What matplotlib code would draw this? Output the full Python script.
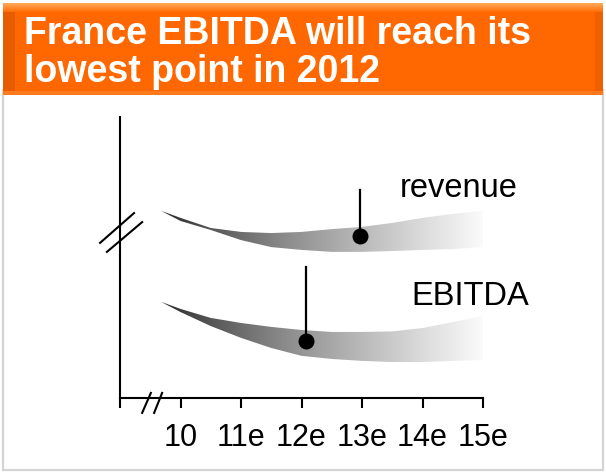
import matplotlib
matplotlib.use("Agg")
import matplotlib.pyplot as plt
import numpy as np
from matplotlib.patches import Rectangle

plt.rcParams['font.family'] = ['Liberation Sans', 'DejaVu Sans']

title_lines = ["France EBITDA will reach its", "lowest point in 2012"]

tick_years = [9, 10, 11, 12, 13, 14, 15]
tick_labels = ["", "10", "11e", "12e", "13e", "14e", "15e"]

# band outlines (index units, 0-100 on the hidden y scale)
years = [9.68, 10, 10.5, 11, 11.5, 12, 12.5, 13, 13.5, 14, 14.5, 15]
revenue_upper = [66.6, 64.1, 60.5, 59.1, 58.7, 59.1, 60.1, 60.9, 62.3, 64.1, 65.5, 66.6]
revenue_lower = [66.6, 63.0, 59.8, 56.2, 53.7, 52.7, 52.0, 52.0, 52.3, 52.7, 53.0, 53.7]
ebitda_upper = [34.2, 31.7, 28.5, 26.7, 25.3, 24.2, 23.5, 23.5, 23.7, 24.9, 27.0, 29.2]
ebitda_lower = [34.2, 30.6, 25.6, 21.4, 17.8, 15.0, 13.9, 13.2, 12.8, 12.8, 13.2, 13.5]

# marker position, stem top
revenue_marker = (12.97, 57.7, 74.0)
ebitda_marker = (12.07, 20.3, 46.6)

series_labels = ["revenue", "EBITDA"]
label_pos = [(13.62, 71.5), (13.82, 33.1)]

W, H = 606, 473
fig = plt.figure(figsize=(W / 100, H / 100), dpi=100)

# background layer in pixel units: frame + orange banner
bg = fig.add_axes([0, 0, 1, 1], zorder=0)
bg.set_xlim(0, W)
bg.set_ylim(H, 0)
bg.axis('off')
bg.add_patch(Rectangle((2.5, 90), 600.5, 380, facecolor='white',
                       edgecolor='#d4d4d4', linewidth=1.6, zorder=0))

bh, bw = 92, 600
banner = np.zeros((bh, bw, 3))
banner[:] = [255, 104, 0]
for r in range(9):
    f = r / 9
    banner[r] = np.array([255, 168, 88]) * (1 - f) + np.array([255, 104, 0]) * f
banner[-4:] = [255, 122, 28]
banner[9:-4, :12] = [232, 92, 0]
banner[9:-4, -8:] = [240, 96, 0]
bg.imshow(banner / 255, extent=(3, 3 + bw, 3 + bh, 3), aspect='auto',
          interpolation='bilinear', zorder=1)

fig.text(24 / W, 1 - 44 / H, title_lines[0], color='white', fontsize=27,
         fontweight='bold', va='baseline', ha='left', zorder=5)
fig.text(24 / W, 1 - 82 / H, title_lines[1], color='white', fontsize=27,
         fontweight='bold', va='baseline', ha='left', zorder=5)

# chart axes
ax = fig.add_axes([120 / W, 1 - 398 / H, 363 / W, 281 / H], zorder=2)
ax.patch.set_alpha(0)
ax.set_xlim(9, 15)
ax.set_ylim(0, 100)

t = np.linspace(0, 1, 400)
g = (32 + 222 * t ** 0.75) / 255
shade = np.dstack([g, g, g]).reshape(1, -1, 3)


def draw_band(upper, lower):
    xs = np.concatenate([years, years[::-1]])
    ys = np.concatenate([upper, lower[::-1]])
    poly = ax.fill(xs, ys, facecolor='none', edgecolor='none')[0]
    im = ax.imshow(shade, extent=(years[0], years[-1] + 0.12, min(lower), max(upper)),
                   aspect='auto', interpolation='bilinear', zorder=1)
    im.set_clip_path(poly)


draw_band(revenue_upper, revenue_lower)
draw_band(ebitda_upper, ebitda_lower)

for x, y, top in (revenue_marker, ebitda_marker):
    ax.plot([x, x], [y, top], color='black', linewidth=1.6, zorder=3)
    ax.plot([x], [y], 'o', color='black', markersize=10.5, zorder=4)

for text, (x, y) in zip(series_labels, label_pos):
    ax.text(x, y, text, fontsize=23.5, va='baseline', ha='left')

ax.set_xlim(9, 15)
ax.set_ylim(0, 100)

for side in ('top', 'right'):
    ax.spines[side].set_visible(False)
for side in ('left', 'bottom'):
    ax.spines[side].set_linewidth(1.5)
ax.set_yticks([])
ax.set_xticks(tick_years)
ax.set_xticklabels(tick_labels, fontsize=22)
ax.tick_params(axis='x', direction='out', length=7.2, width=1.5, pad=11)

# axis break marks
brk = dict(color='black', linewidth=1.5, transform=ax.transAxes, clip_on=False)
ax.plot([-0.055, 0.0386], [0.552, 0.658], **brk)
ax.plot([-0.036, 0.061], [0.520, 0.626], **brk)
ax.plot([0.061, 0.085], [-0.053, 0.018], **brk)
ax.plot([0.094, 0.116], [-0.053, 0.018], **brk)

fig.savefig('out.png', dpi=100)
